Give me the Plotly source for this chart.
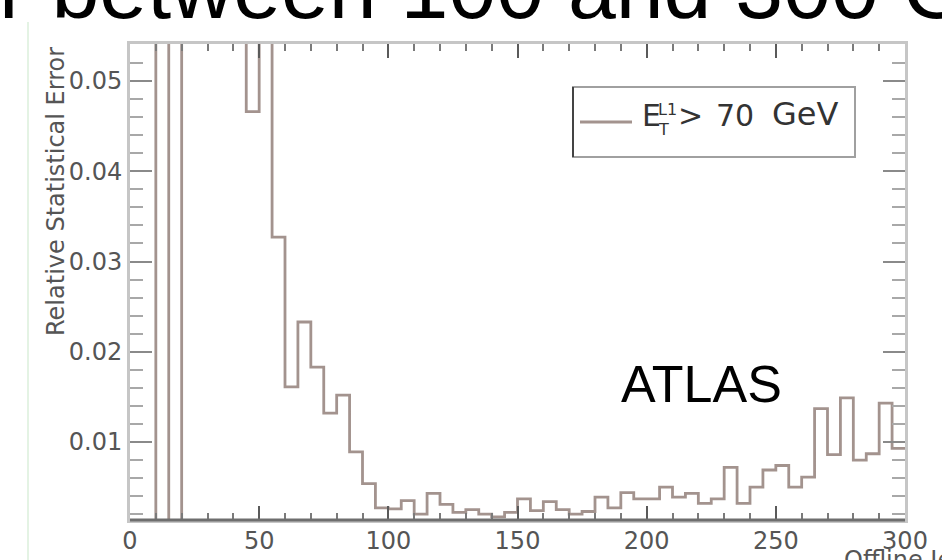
import plotly.graph_objects as go

# ---------------- data ----------------
bin_edges = [0, 5, 10, 15, 20, 25, 30, 35, 40, 45, 50, 55, 60, 65, 70, 75, 80, 85, 90, 95,
             100, 105, 110, 115, 120, 125, 130, 135, 140, 145, 150, 155, 160, 165, 170, 175,
             180, 185, 190, 195, 200, 205, 210, 215, 220, 225, 230, 235, 240, 245, 250, 255,
             260, 265, 270, 275, 280, 285, 290, 295, 300]

rel_err = [0.0, 0.0, 0.30, 0.0, 0.20, 0.14, 0.10, 0.08, 0.065, 0.0466,
           0.058, 0.0327, 0.0161, 0.0233, 0.0183, 0.0132, 0.0152, 0.0089, 0.0054, 0.0027,
           0.0026, 0.0035, 0.0020, 0.0043, 0.0031, 0.0022, 0.0025, 0.0020, 0.0017, 0.0022,
           0.0037, 0.0024, 0.0034, 0.0025, 0.0020, 0.0023, 0.0039, 0.0027, 0.0044, 0.0037,
           0.0037, 0.0050, 0.0039, 0.0043, 0.0032, 0.0037, 0.0072, 0.0032, 0.0050, 0.0069,
           0.0074, 0.0050, 0.0061, 0.0137, 0.0086, 0.0149, 0.0080, 0.0087, 0.0143, 0.0093]

x_tick_vals = [0, 50, 100, 150, 200, 250, 300]
y_tick_vals = [0.01, 0.02, 0.03, 0.04, 0.05]

legend_tokens = [">", "70", "GeV"]
title_fragment = "r between 100 and 300 GeV"

# ---------------- layout helpers ----------------
W, H = 942, 560
L, R, T, B = 130, 905, 44, 520


def px(x):
    return (x - L) / (R - L)


def py(y):
    return (B - y) / (B - T)


line_col = "#a3938e"
grey_txt = "#555555"
leg_txt = "#333333"

fig = go.Figure()
fig.add_trace(go.Scatter(
    x=bin_edges,
    y=rel_err + [rel_err[-1]],
    mode="lines",
    line=dict(shape="hv", color=line_col, width=2.8),
    showlegend=False,
    hoverinfo="skip",
))

fig.update_layout(
    width=W, height=H,
    margin=dict(l=L, r=W - R, t=T, b=H - B, pad=0, autoexpand=False),
    paper_bgcolor="white",
    plot_bgcolor="white",
    showlegend=False,
)

fig.update_xaxes(
    range=[0, 300],
    tickvals=x_tick_vals,
    ticktext=[str(v) for v in x_tick_vals],
    ticks="inside", ticklen=14, tickwidth=2, tickcolor="#5a5a5a",
    minor=dict(ticks="inside", ticklen=7, tickwidth=2, tickcolor="#7a7a7a", dtick=10, showgrid=False),
    showline=True, linecolor="#c6c6c6", linewidth=3, mirror="ticks",
    showgrid=False, zeroline=False, automargin=False,
    tickfont=dict(family="DejaVu Sans", size=24, color=grey_txt),
    ticklabelstandoff=-3,
)
fig.update_yaxes(
    range=[0.00136, 0.0541],
    tickvals=y_tick_vals,
    ticktext=["%.2f" % v for v in y_tick_vals],
    ticks="inside", ticklen=22, tickwidth=2, tickcolor="#8a8a8a",
    minor=dict(ticks="inside", ticklen=13, tickwidth=2, tickcolor="#a8a8a8", dtick=0.002, showgrid=False),
    showline=True, linecolor="#c6c6c6", linewidth=3, mirror="ticks",
    showgrid=False, zeroline=False, automargin=False,
    tickfont=dict(family="DejaVu Sans", size=24, color=grey_txt),
    ticklabelstandoff=0,
)

shapes = [
    # darker bottom frame line
    dict(type="line", xref="paper", yref="paper", x0=0, x1=1, y0=0, y1=0,
         line=dict(color="#6e6e6e", width=3), layer="above"),
    # legend box
    dict(type="rect", xref="paper", yref="paper",
         x0=px(573), x1=px(855), y0=py(157), y1=py(87),
         line=dict(color="#a0a0a0", width=2), fillcolor="white", layer="above"),
    dict(type="line", xref="paper", yref="paper",
         x0=px(573), x1=px(573), y0=py(157), y1=py(87),
         line=dict(color="#444444", width=2), layer="above"),
    # legend sample line
    dict(type="line", xref="paper", yref="paper",
         x0=px(580), x1=px(632), y0=py(122), y1=py(122),
         line=dict(color=line_col, width=2.8), layer="above"),
    # faint slide image border
    dict(type="line", xref="paper", yref="paper",
         x0=px(28), x1=px(28), y0=py(560), y1=py(22),
         line=dict(color="#e4f3e4", width=2), layer="below"),
]
fig.update_layout(shapes=shapes)


def text_at(txt, x, y_bottom, size, family, color, xanchor="left", **kw):
    return dict(text=txt, xref="paper", yref="paper", x=px(x), y=py(y_bottom),
                xanchor=xanchor, yanchor="bottom", showarrow=False,
                font=dict(family=family, size=size, color=color), **kw)


ann = []
# slide title fragment (cut off at the top)
ann.append(text_at(title_fragment, -3, 38, 86, "Liberation Sans", "black"))
# y axis title
ann.append(dict(text="Relative Statistical Error", xref="paper", yref="paper",
                x=px(56), y=py(192), xanchor="center", yanchor="middle", textangle=-90,
                showarrow=False, font=dict(family="DejaVu Sans", size=24, color=grey_txt)))
# x axis title (mostly cut off at the bottom)
ann.append(text_at("Offline Jet E<sub>T</sub> [GeV]", 842, 579, 24, "DejaVu Sans", grey_txt))
# ATLAS label
ann.append(text_at("ATLAS", 701, 415, 52, "Liberation Sans", "black", xanchor="center"))
# legend text
ann.append(text_at("E", 640, 135, 30, "DejaVu Sans", leg_txt))
ann.append(text_at("L1", 656, 121, 16, "DejaVu Sans", leg_txt))
ann.append(text_at("T", 656, 141, 16, "DejaVu Sans", leg_txt))
ann.append(text_at(legend_tokens[0], 676, 135, 30, "DejaVu Sans", leg_txt))
ann.append(text_at(legend_tokens[1], 714, 135, 30, "DejaVu Sans", leg_txt))
ann.append(text_at(legend_tokens[2], 770, 135, 32, "DejaVu Sans", leg_txt))
fig.update_layout(annotations=ann)

fig.write_html("out.html")
